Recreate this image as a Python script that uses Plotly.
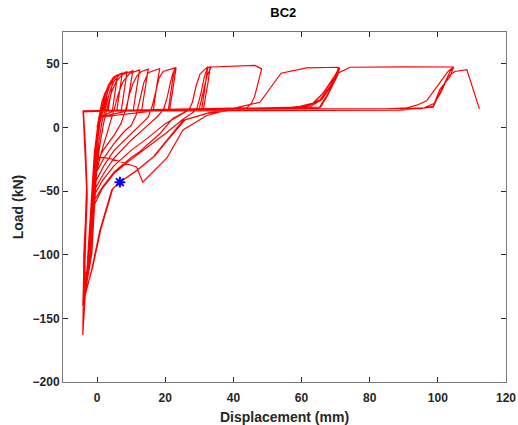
import plotly.graph_objects as go

# ---- Small cycles (peaks ~3 to ~10 mm) ----
small_disp = [0, 0.6, 1.4, 2.3, 3.2, 2.8, 2.0, -4.0, -3.6, -3.1, -3.7, -3.9,
              -2.2, -1.4, -0.9, -0.5, -0.1, 0.5, 1.4, 2.3, 3.4, 4.6, 4.1, 3.2, -4.1, -3.5, -3.0, -3.6, -4.0,
              -2.6, -1.8, -1.2, -0.7, -0.1, 0.6, 1.6, 2.6, 3.7, 4.8, 6.0, 5.5, 4.5, -4.0, -3.4, -2.9, -3.8, -4.1,
              -1.8, -1.2, -0.8, -0.4, 0.1, 0.9, 2.0, 3.1, 4.3, 5.6, 7.4, 6.8, 5.8, -4.1, -3.6, -3.0, -3.7, -3.9,
              -2.4, -1.5, -0.8, -0.2, 0.5, 1.4, 2.6, 3.7, 4.9, 6.4, 8.8, 8.2, 7.1, -4.1, -3.5, -2.9, -3.6, -4.0,
              -1.6, -1.1, -0.7, -0.1, 0.8, 1.9, 3.1, 4.3, 5.6, 7.4, 10.5, 9.8, 8.6, -4.1, -3.6, -3.0, -3.8, -4.1]
small_load = [0, 10, 20, 27, 31, 22, 13, 12.3, -14, -48, -95, -126,
              -100, -72, -48, -28, -10, 4, 16, 26, 34, 38, 27, 13, 12.4, -16, -50, -98, -132,
              -105, -75, -50, -30, -12, 3, 16, 27, 35, 39.5, 41.5, 31, 13.1, 12.5, -15, -52, -100, -136,
              -100, -74, -52, -32, -12, 4, 17, 28, 36, 40.5, 43, 32, 13.2, 12.5, -17, -50, -102, -134,
              -108, -78, -52, -32, -12, 4, 17, 28, 36, 41, 44, 33, 13.2, 12.6, -14, -52, -104, -138,
              -100, -76, -52, -33, -14, 3, 17, 28, 36, 41.5, 44.6, 33, 13.3, 12.6, -16, -50, -100, -139]

# ---- Medium cycles (peaks ~12 to ~23 mm) ----
medium_disp = [-2.0, -1.3, -0.8, -0.2, 1.2, 2.6, 3.8, 5.0, 6.2, 7.6, 9.6, 12.5, 11.8, 10.6, -4.1, -3.5, -3.0, -3.7, -4.2,
               -2.5, -1.6, -1.1, -0.6, 2.0, 5.0, 7.0, 8.4, 9.5, 10.6, 11.8, 13.0, 15.0, 14.3, 13.1, -4.1, -3.6, -3.0, -3.9, -4.0,
               -1.7, -1.2, -0.9, -0.7, 2.0, 5.0, 8.0, 10.0, 11.5, 12.6, 13.7, 15.0, 18.4, 17.7, 16.5, -4.1, -3.5, -2.9, -3.6, -3.9,
               -2.3, -1.5, -0.9, 2.0, 5.0, 10.0, 13.0, 15.0, 16.2, 17.2, 18.2, 19.4, 22.8, 22.1, 20.9, -4.1, -3.6, -3.0, -3.8, -4.1,
               -1.5, -1.1, -1.0, 2.0, 5.0, 10.0, 15.0, 17.5, 19.5, 20.6, 21.5, 22.3, 23.2, 22.5, 21.3, -4.1, -3.5, -2.9, -3.7, -3.9]
medium_load = [-100, -75, -52, -36, -20, -8, 3, 14, 26, 36, 42.5, 45.2, 34, 13.4, 12.7, -15, -52, -102, -140,
               -108, -78, -50, -30, -17, -6, 3, 14, 26, 35, 41, 44, 45.8, 35, 13.5, 12.7, -17, -50, -100, -136,
               -100, -76, -52, -38, -24, -12.5, -3, 1.5, 10, 22, 35, 43, 46.3, 36, 13.6, 12.8, -15, -52, -102, -137,
               -104, -78, -45, -30, -18, -5, 3, 8, 17, 29, 39, 44, 46.8, 36, 13.8, 12.8, -16, -50, -100, -140,
               -98, -74, -50, -36, -24, -10, 2, 8, 14, 24, 35, 43, 47, 36, 13.8, 12.8, -14, -52, -102, -137]

# ---- Large cycles (peaks ~32 and ~48 mm) ----
large_disp = [-2.1, -1.4, -1.2, 1.5, 5.0, 10.0, 15.0, 20.0, 25.0, 27.0, 28.0, 29.0, 30.2, 32.5, 31.9, 30.7, -4.1, -3.6, -3.0, -3.8, -4.0,
              -2.7, -1.9, -1.4, 1.5, 5.0, 10.0, 12.5, 15.0, 18.4, 22.2, 26.0, 29.3, 30.5, 31.5, 32.3, 33.2, 32.6, 31.2, -4.1, -3.5, -2.9, -3.6, -3.8,
              -1.9, -1.3, -1.0, 1.5, 5.0, 10.0, 15.0, 20.0, 25.0, 28.5, 30.0, 31.2, 32.3, 33.5, 40.0, 46.3, 48.3,
              47.5, 46.2, 45.3, 44.0, -4.1, -3.6, -3.0, -3.7, -3.8]
large_load = [-102, -76, -55, -42, -30, -18, -8, 3, 11, 13.8, 20, 32, 42, 47.8, 36, 14.3, 12.9, -17, -50, -100, -140,
              -108, -80, -60, -47, -35, -23.5, -19, -13, -5, 7, 12.5, 15, 27, 40, 46, 48, 36, 14.4, 12.9, -15, -52, -102, -137,
              -100, -78, -62, -48, -36, -25, -15, -5, 6, 12.6, 14.6, 28, 41, 47.5, 48.4, 48.8, 46,
              37, 24, 19, 15.5, 13, -16, -50, -100, -136]

# ---- Ultimate cycles (peaks ~70 and ~104 mm, final excursion to 112 mm) ----
ultimate_disp = [-2.4, -1.6, -1.2, -0.6, 1.7, 4.6, 11.6, 13.4, 20.5, 25.2, 32.2, 40, 47.8, 51, 54, 61.5, 70.8,
                 70.3, 66.3, 63.4, 59.5, 45, -4.1, -3.5, -3.0, -3.7, -3.6,
                 -1.6, 0.8, 4.3, 6.7, 11.6, 16.4, 20.5, 25.2, 32.2, 44.8, 55, 59.5, 63.4, 66.3, 69.6, 71,
                 70.4, 67.2, 65.2, -4.1, -3.4, -2.9, -3.6, -3.4,
                 -1.3, 1.1, 4.6, 7.0, 12, 17, 21, 25.8, 33, 46, 58, 62, 65.5, 68.5, 70.5, 71.2,
                 70.6, 67.6, 65.6, -4.1, -3.5, -3.0, -3.8, -3.9,
                 -2.0, -1.4, -1.0, -0.5, 0.8, 5, 30, 50, 62, 66, 68.5, 70.7, 74.2, 90, 104.6,
                 103.6, 100.6, 98.6, 95, 60, 30, -4.1, -3.5, -3.0, -3.6, -3.8,
                 -2.6, -1.8, -1.2, -0.4, 0.6, 10, 40, 70, 85, 91, 93.8, 96.7, 100.6, 103, 104.4,
                 103.6, 98.6, 88.9, -4.1, -3.6, -3.0, -3.9, -4.2,
                 -3.3, -2.5, -1.8, -0.8, 0.5, 20, 60, 90, 96, 99, 101, 103, 105, 108.5, 112.2]
ultimate_load = [-104, -76, -50, -24, -23.5, -25, -31, -43, -24, -2, 9.4, 15, 19.8, 32, 42.6, 46.8, 47.3,
                 42, 26.7, 18.8, 16, 15.2, 12.9, -12, -50, -100, -133,
                 -112, -81, -49, -43, -34, -23.5, -10, 5.5, 11, 15, 15.3, 16.5, 19.2, 27, 40, 46.5,
                 40, 24, 15.6, 12.8, -20, -55, -100, -130,
                 -110, -80, -48, -42.5, -33, -22, -9, 6, 11.6, 15.3, 15.5, 17, 22, 33, 43, 47,
                 41, 25, 16, 12.7, -15, -50, -102, -138,
                 -100, -74, -50, -20, 8, 13.2, 14.3, 15, 15.5, 22, 32, 42.6, 47.3, 47.6, 47.5,
                 40, 30, 16.5, 14.8, 14.5, 14.1, 12.9, -10, -50, -100, -134,
                 -110, -80, -50, -18, 8, 13.6, 14.5, 14.6, 14.6, 15.5, 17.5, 21, 35.5, 44, 47.2,
                 44, 16, 13.5, 12.8, -12, -52, -110, -163,
                 -125, -90, -55, -20, 8, 14, 14.6, 14.8, 15.5, 19, 28, 40, 44, 45.5, 14.6]

# ---- Marked point ----
marker_disp = [6.7]
marker_load = [-43]

x_ticks = [0, 20, 40, 60, 80, 100, 120]
y_ticks = [-200, -150, -100, -50, 0, 50]

disp = small_disp + medium_disp + large_disp + ultimate_disp
load = small_load + medium_load + large_load + ultimate_load

fig = go.Figure()
fig.add_trace(go.Scatter(x=disp, y=load, mode="lines",
                         line=dict(color="#ff0000", width=1.2), showlegend=False))
fig.add_trace(go.Scatter(x=marker_disp, y=marker_load, mode="markers",
                         marker=dict(symbol="asterisk-open", size=9, color="#0000ff",
                                     line=dict(color="#0000ff", width=2)),
                         showlegend=False))

font_family = "Liberation Sans, Arial, sans-serif"
axis_common = dict(showline=True, linecolor="#7a7a7a", linewidth=1, mirror="ticks",
                   ticks="inside", ticklen=5, tickcolor="#262626", showgrid=False, zeroline=False,
                   automargin=False,
                   tickfont=dict(family=font_family, size=12, color="#262626", weight="bold"))

fig.update_layout(
    width=518, height=425,
    margin=dict(l=63, r=12, t=32, b=43),
    paper_bgcolor="white", plot_bgcolor="white",
    title=dict(text="BC2", x=0.547, xanchor="center", y=1 - 12 / 425, yref="container",
               yanchor="middle", font=dict(family=font_family, size=13, color="black", weight="bold")),
    xaxis=dict(range=[-10, 120], tickvals=x_ticks, ticklabelstandoff=5, **axis_common,
               title=dict(text="Displacement (mm)", standoff=7,
                          font=dict(family=font_family, size=14, color="#262626", weight="bold"))),
    yaxis=dict(range=[-200, 75], tickvals=y_ticks, **axis_common,
               title=dict(text="Load (kN)", standoff=5,
                          font=dict(family=font_family, size=14, color="#262626", weight="bold"))),
)

fig.write_html("out.html")
